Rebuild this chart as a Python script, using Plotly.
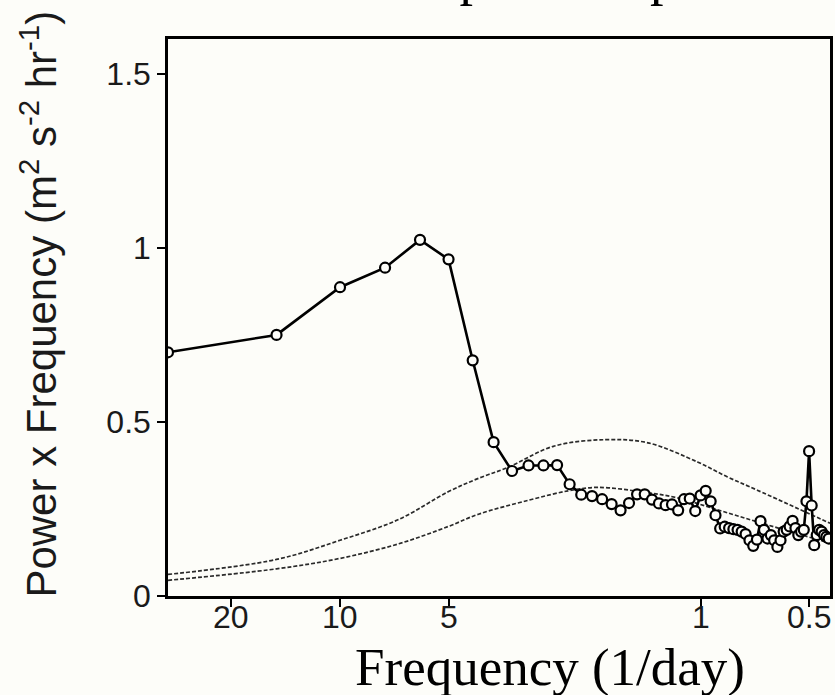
import math
import plotly.graph_objects as go

# Period (days) of each spectral estimate (harmonics of a 30-day record)
period_days = [30.0, 15.0, 10.0, 7.5, 6.0, 5.0, 4.2857, 3.75, 3.3333, 3.0,
               2.7273, 2.5, 2.3077, 2.1429, 2.0, 1.875, 1.7647, 1.6667, 1.5789, 1.5,
               1.4286, 1.3636, 1.3043, 1.25, 1.2, 1.1538, 1.1111, 1.0714, 1.0345, 1.0,
               0.9677, 0.9375, 0.9091, 0.8824, 0.8571, 0.8333, 0.8108, 0.7895, 0.7692, 0.75,
               0.7317, 0.7143, 0.6977, 0.6818, 0.6667, 0.6522, 0.6383, 0.625, 0.6122, 0.6,
               0.5882, 0.5769, 0.5660, 0.5556, 0.5455, 0.5357, 0.5263, 0.5172, 0.5085, 0.5,
               0.4918, 0.4839, 0.4762, 0.4688, 0.4615, 0.4545, 0.4478, 0.4412]

power_x_freq = [0.70, 0.75, 0.887, 0.943, 1.023, 0.967, 0.677, 0.442, 0.359, 0.375,
                0.375, 0.376, 0.321, 0.291, 0.287, 0.278, 0.264, 0.246, 0.267, 0.292,
                0.292, 0.277, 0.266, 0.261, 0.263, 0.246, 0.278, 0.280, 0.244, 0.289,
                0.302, 0.272, 0.232, 0.194, 0.199, 0.195, 0.192, 0.190, 0.185, 0.178,
                0.160, 0.144, 0.162, 0.215, 0.190, 0.165, 0.175, 0.160, 0.141, 0.160,
                0.185, 0.190, 0.200, 0.216, 0.195, 0.175, 0.185, 0.190, 0.272, 0.416,
                0.260, 0.146, 0.175, 0.190, 0.185, 0.175, 0.170, 0.165]

# Upper dashed reference curve
upper_period = [30, 15, 10, 6.87, 5, 4.13, 3.41, 2.56, 1.84, 1.40, 1.02, 0.842, 0.696, 0.4375]
upper_val = [0.062, 0.105, 0.160, 0.220, 0.300, 0.338, 0.370, 0.430, 0.449, 0.440, 0.385, 0.342, 0.304, 0.209]

# Lower dashed reference curve
lower_period = [30, 15, 10, 6.87, 5, 4.13, 3.0, 2.33, 1.93, 1.43, 1.16, 0.90, 0.696, 0.543, 0.4375]
lower_val = [0.045, 0.078, 0.108, 0.150, 0.200, 0.235, 0.275, 0.302, 0.312, 0.298, 0.282, 0.248, 0.213, 0.180, 0.152]

x_ticks = [20, 10, 5, 1, 0.5]
x_tick_text = ["20", "10", "5", "1", "0.5"]
y_ticks = [0, 0.5, 1, 1.5]
y_tick_text = ["0", "0.5", "1", "1.5"]

BG = "#fdfdf9"
W, H = 835, 695
ML, MR, MT, MB = 168, 2, 39, 99
PH = H - MT - MB
PW = W - ML - MR
SANS = "Liberation Sans, Arial, sans-serif"
SERIF = "Liberation Serif, Times New Roman, serif"


def py(pix):
    return 1 + (MT - pix) / PH


def px(pix):
    return (pix - ML) / PW


fig = go.Figure()

for per, val in ((upper_period, upper_val), (lower_period, lower_val)):
    fig.add_trace(go.Scatter(
        x=per, y=val, mode="lines",
        line=dict(color="#2a2a2a", width=1.7, dash="4px,2px", shape="spline", smoothing=1.0),
        hoverinfo="skip", showlegend=False,
    ))

fig.add_trace(go.Scatter(
    x=period_days, y=power_x_freq, mode="lines+markers",
    line=dict(color="black", width=2.6),
    marker=dict(symbol="circle", size=10, color=BG, line=dict(color="black", width=2.2)),
    showlegend=False,
))

annotations = [
    dict(text=t, xref="x", yref="paper", x=math.log10(v), y=py(617),
         xanchor="center", yanchor="middle", showarrow=False,
         font=dict(size=32, family=SANS, color="#1a1a1a"))
    for v, t in zip(x_ticks, x_tick_text)
]
annotations += [
    dict(text="Power x Frequency (m<sup>2</sup> s<sup>-2</sup> hr<sup>-1</sup>)",
         xref="paper", yref="paper", x=px(38), y=py(304),
         xanchor="center", yanchor="middle", textangle=-90, showarrow=False,
         font=dict(size=42, family=SANS, color="#1a1a1a")),
    dict(text="Frequency (1/day)",
         xref="paper", yref="paper", x=px(552), y=py(667),
         xanchor="center", yanchor="middle", showarrow=False,
         font=dict(size=53, family=SERIF, color="black")),
    dict(text="Zonal Component Spectrum",
         xref="paper", yref="paper", x=px(213), y=py(-24),
         xanchor="left", yanchor="middle", showarrow=False,
         font=dict(size=54, family=SERIF, color="black")),
]

fig.update_layout(
    width=W, height=H,
    margin=dict(l=ML, r=MR, t=MT, b=MB, pad=0),
    paper_bgcolor=BG, plot_bgcolor=BG,
    font=dict(family=SANS, color="#1a1a1a"),
    xaxis=dict(
        type="log", range=[math.log10(30), math.log10(0.4375)],
        tickvals=x_ticks, ticktext=x_tick_text, showticklabels=False,
        ticks="outside", ticklen=8, tickwidth=2, tickcolor="black",
        showgrid=False, zeroline=False,
        showline=True, linewidth=2.5, linecolor="black", mirror=True,
    ),
    yaxis=dict(
        range=[0, 1.6],
        tickvals=y_ticks, ticktext=y_tick_text,
        ticks="outside", ticklen=8, tickwidth=2, tickcolor="black",
        tickfont=dict(size=32, family=SANS, color="#1a1a1a"),
        showgrid=False, zeroline=False,
        showline=True, linewidth=2.5, linecolor="black", mirror=True,
    ),
    annotations=annotations,
)

fig.write_html("out.html")
